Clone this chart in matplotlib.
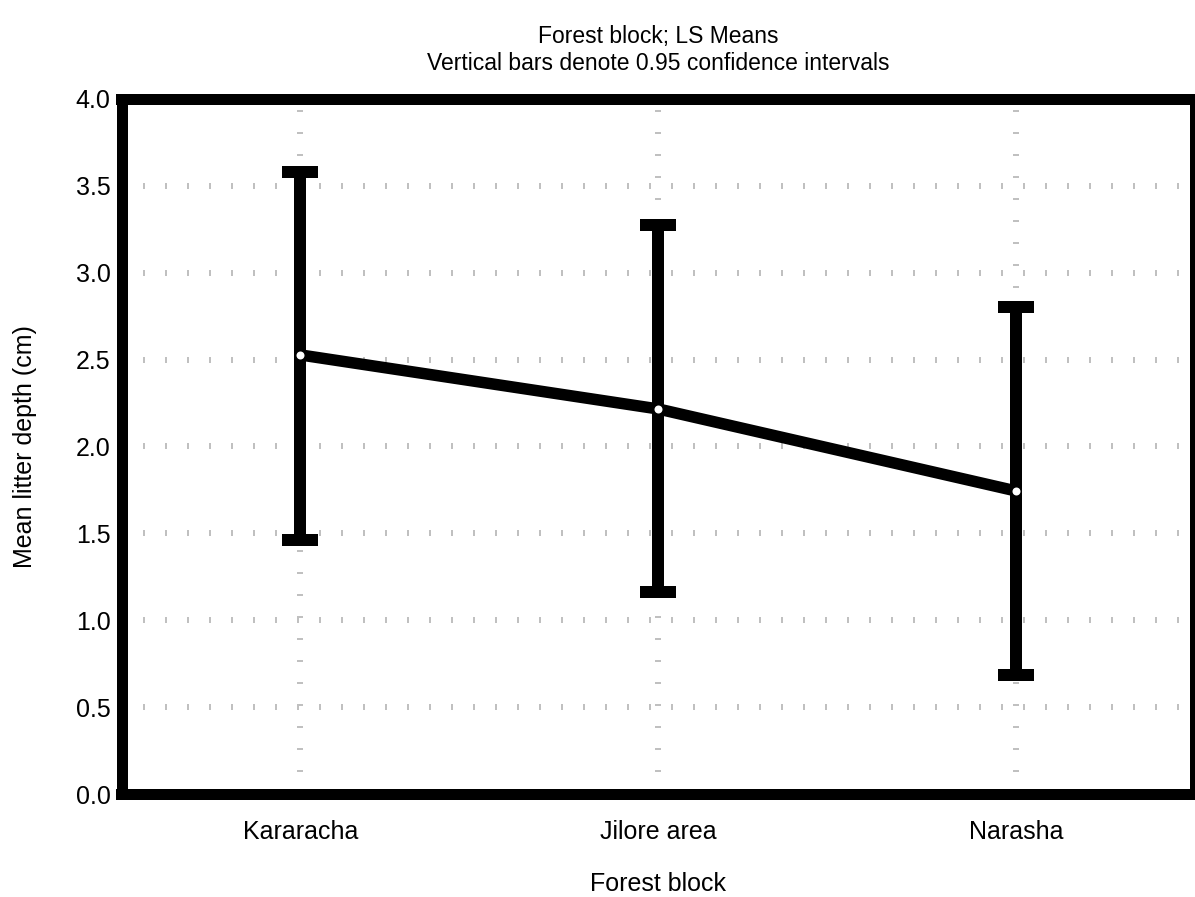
import matplotlib
matplotlib.use("Agg")
import matplotlib.pyplot as plt
import numpy as np

plt.rcParams['font.family'] = ['Liberation Sans', 'DejaVu Sans']

categories = ["Kararacha", "Jilore area", "Narasha"]
means = [2.527, 2.216, 1.744]
ci_lower = [1.462, 1.163, 0.685]
ci_upper = [3.581, 3.273, 2.804]
yticks = [0.0, 0.5, 1.0, 1.5, 2.0, 2.5, 3.0, 3.5, 4.0]

W, H = 1195, 897
DPI = 100
px = 72.0 / DPI  # points per pixel

fig = plt.figure(figsize=(W / DPI, H / DPI), dpi=DPI)
ax = fig.add_axes([121.5 / W, 103 / H, (1195 - 121.5) / W, (794 - 99) / H])

x = np.arange(len(categories))
m = np.array(means)
lo = m - np.array(ci_lower)
hi = np.array(ci_upper) - m

grey = '#c0c0c0'
# custom grid: horizontal lines as short vertical ticks, vertical as short dashes
for yv in yticks[1:-1]:
    ax.plot([-0.5, 2.5], [yv, yv], color=grey, lw=6 * px, dashes=(2 / 6, 20 / 6),
            solid_capstyle='butt', dash_capstyle='butt', zorder=1)
for xv in x:
    ax.plot([xv, xv], [0, 4], color=grey, lw=6 * px, dashes=(2 / 6, 20 / 6),
            dash_capstyle='butt', zorder=1)

ax.errorbar(x, m, yerr=[lo, hi], fmt='none', ecolor='black', elinewidth=12 * px,
            capsize=18 * px, capthick=12 * px, zorder=3)
ax.plot(x, m, color='black', lw=11.5 * px, zorder=4, solid_capstyle='butt')
ax.plot(x, m, 'o', color='white', markersize=8 * px, markeredgewidth=0, zorder=5)

ax.set_xlim(-0.5, 2.5)
ax.set_ylim(0, 4.0)
ax.set_yticks(yticks)
ax.set_yticklabels([f"{v:.1f}" for v in yticks])
ax.set_xticks(x)
ax.set_xticklabels(categories)
ax.tick_params(axis='both', length=0, labelsize=18)
ax.tick_params(axis='y', pad=8)
ax.tick_params(axis='x', pad=19)

for s in ax.spines.values():
    s.set_linewidth(11 * px)
    s.set_color('black')
    s.set_capstyle('projecting')
    s.set_zorder(6)

ax.set_xlabel("Forest block", fontsize=18, labelpad=20)
ax.set_ylabel("Mean litter depth (cm)", fontsize=18, labelpad=28)
ax.set_title("Forest block; LS Means\nVertical bars denote 0.95 confidence intervals",
             fontsize=16.5, pad=21, linespacing=1.2)

fig.savefig("out.png", dpi=DPI)
